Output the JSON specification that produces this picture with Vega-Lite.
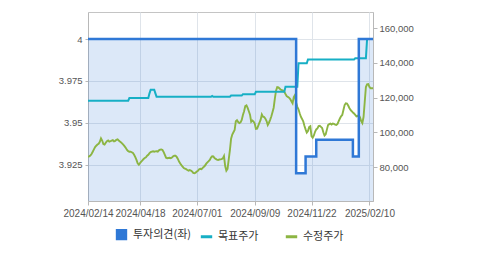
{
"$schema": "https://vega.github.io/schema/vega-lite/v6.json",
"width": 285, "height": 189,
"autosize": {"type": "none"},
"padding": {"left": 88, "top": 12, "right": 106, "bottom": 54},
"config": {
  "view": {"stroke": "#c4c4c4"},
  "axis": {"labelFont": "Liberation Sans", "labelFontSize": 10, "labelColor": "#555555", "domainColor": "#b8b8b8", "tickColor": "#b8b8b8", "gridColor": "#dfe4ea", "title": null},
  "legend": {"labelFont": "Noto Sans CJK KR", "labelFontSize": 11, "labelColor": "#333333", "padding": 0}
},
"data": {"values": [
{"date":"2024/02/14","opinion":4,"target":118250,"price":85900},
{"date":"2024/02/15","opinion":4,"target":118250,"price":86160},
{"date":"2024/02/16","opinion":4,"target":118250,"price":86680},
{"date":"2024/02/19","opinion":4,"target":118250,"price":87480},
{"date":"2024/02/20","opinion":4,"target":118250,"price":88810},
{"date":"2024/02/21","opinion":4,"target":118250,"price":90140},
{"date":"2024/02/22","opinion":4,"target":118250,"price":91460},
{"date":"2024/02/23","opinion":4,"target":118250,"price":92270},
{"date":"2024/02/26","opinion":4,"target":118250,"price":92960},
{"date":"2024/02/27","opinion":4,"target":118250,"price":93420},
{"date":"2024/02/28","opinion":4,"target":118250,"price":94520},
{"date":"2024/02/29","opinion":4,"target":118250,"price":96540},
{"date":"2024/03/04","opinion":4,"target":118250,"price":95270},
{"date":"2024/03/05","opinion":4,"target":118250,"price":93250},
{"date":"2024/03/06","opinion":4,"target":118250,"price":92960},
{"date":"2024/03/07","opinion":4,"target":118250,"price":93950},
{"date":"2024/03/08","opinion":4,"target":118250,"price":94930},
{"date":"2024/03/11","opinion":4,"target":118250,"price":95330},
{"date":"2024/03/12","opinion":4,"target":118250,"price":94580},
{"date":"2024/03/13","opinion":4,"target":118250,"price":94870},
{"date":"2024/03/14","opinion":4,"target":118250,"price":95210},
{"date":"2024/03/15","opinion":4,"target":118250,"price":95500},
{"date":"2024/03/18","opinion":4,"target":118250,"price":94750},
{"date":"2024/03/19","opinion":4,"target":118250,"price":95090},
{"date":"2024/03/20","opinion":4,"target":118250,"price":95670},
{"date":"2024/03/21","opinion":4,"target":118250,"price":95960},
{"date":"2024/03/22","opinion":4,"target":118250,"price":95270},
{"date":"2024/03/25","opinion":4,"target":118250,"price":94690},
{"date":"2024/03/26","opinion":4,"target":118250,"price":94180},
{"date":"2024/03/27","opinion":4,"target":118250,"price":93480},
{"date":"2024/03/28","opinion":4,"target":118250,"price":92730},
{"date":"2024/03/29","opinion":4,"target":118250,"price":91920},
{"date":"2024/04/01","opinion":4,"target":118250,"price":90940},
{"date":"2024/04/02","opinion":4,"target":118250,"price":89850},
{"date":"2024/04/03","opinion":4,"target":118250,"price":89100},
{"date":"2024/04/04","opinion":4,"target":119800,"price":88810},
{"date":"2024/04/05","opinion":4,"target":119800,"price":88810},
{"date":"2024/04/08","opinion":4,"target":119800,"price":88520},
{"date":"2024/04/09","opinion":4,"target":119800,"price":88060},
{"date":"2024/04/11","opinion":4,"target":119800,"price":87080},
{"date":"2024/04/12","opinion":4,"target":119800,"price":85750},
{"date":"2024/04/15","opinion":4,"target":119800,"price":84140},
{"date":"2024/04/16","opinion":4,"target":119800,"price":82120},
{"date":"2024/04/17","opinion":4,"target":119800,"price":81310},
{"date":"2024/04/18","opinion":4,"target":119800,"price":82290},
{"date":"2024/04/19","opinion":4,"target":119800,"price":83040},
{"date":"2024/04/22","opinion":4,"target":119800,"price":83850},
{"date":"2024/04/23","opinion":4,"target":119800,"price":84600},
{"date":"2024/04/24","opinion":4,"target":119800,"price":85180},
{"date":"2024/04/25","opinion":4,"target":119800,"price":85580},
{"date":"2024/04/26","opinion":4,"target":119800,"price":86500},
{"date":"2024/04/29","opinion":4,"target":119800,"price":87080},
{"date":"2024/04/30","opinion":4,"target":122500,"price":88000},
{"date":"2024/05/02","opinion":4,"target":124600,"price":88640},
{"date":"2024/05/03","opinion":4,"target":124600,"price":88920},
{"date":"2024/05/07","opinion":4,"target":124600,"price":89100},
{"date":"2024/05/08","opinion":4,"target":124600,"price":88810},
{"date":"2024/05/09","opinion":4,"target":122500,"price":89040},
{"date":"2024/05/10","opinion":4,"target":120500,"price":89100},
{"date":"2024/05/13","opinion":4,"target":120500,"price":88870},
{"date":"2024/05/14","opinion":4,"target":120500,"price":89620},
{"date":"2024/05/16","opinion":4,"target":120500,"price":90020},
{"date":"2024/05/17","opinion":4,"target":120500,"price":90080},
{"date":"2024/05/20","opinion":4,"target":120500,"price":89850},
{"date":"2024/05/21","opinion":4,"target":120500,"price":88580},
{"date":"2024/05/22","opinion":4,"target":120500,"price":86960},
{"date":"2024/05/23","opinion":4,"target":120500,"price":85350},
{"date":"2024/05/24","opinion":4,"target":120500,"price":85060},
{"date":"2024/05/27","opinion":4,"target":120500,"price":85180},
{"date":"2024/05/28","opinion":4,"target":120500,"price":85290},
{"date":"2024/05/29","opinion":4,"target":120500,"price":85060},
{"date":"2024/05/30","opinion":4,"target":120500,"price":85520},
{"date":"2024/05/31","opinion":4,"target":120500,"price":86160},
{"date":"2024/06/03","opinion":4,"target":120500,"price":86500},
{"date":"2024/06/04","opinion":4,"target":120500,"price":86500},
{"date":"2024/06/05","opinion":4,"target":120500,"price":85810},
{"date":"2024/06/07","opinion":4,"target":120500,"price":84660},
{"date":"2024/06/10","opinion":4,"target":120500,"price":83160},
{"date":"2024/06/11","opinion":4,"target":120500,"price":82060},
{"date":"2024/06/12","opinion":4,"target":120500,"price":81080},
{"date":"2024/06/13","opinion":4,"target":120500,"price":80160},
{"date":"2024/06/14","opinion":4,"target":120500,"price":79460},
{"date":"2024/06/17","opinion":4,"target":120500,"price":79000},
{"date":"2024/06/18","opinion":4,"target":120500,"price":78770},
{"date":"2024/06/19","opinion":4,"target":120500,"price":78260},
{"date":"2024/06/20","opinion":4,"target":120500,"price":77910},
{"date":"2024/06/21","opinion":4,"target":120500,"price":78200},
{"date":"2024/06/24","opinion":4,"target":120500,"price":77970},
{"date":"2024/06/25","opinion":4,"target":120500,"price":77450},
{"date":"2024/06/26","opinion":4,"target":120500,"price":76640},
{"date":"2024/06/27","opinion":4,"target":120500,"price":76410},
{"date":"2024/06/28","opinion":4,"target":120500,"price":76760},
{"date":"2024/07/01","opinion":4,"target":120500,"price":77390},
{"date":"2024/07/02","opinion":4,"target":120500,"price":77800},
{"date":"2024/07/03","opinion":4,"target":120500,"price":78720},
{"date":"2024/07/04","opinion":4,"target":120500,"price":79000},
{"date":"2024/07/05","opinion":4,"target":120500,"price":78720},
{"date":"2024/07/08","opinion":4,"target":120500,"price":79520},
{"date":"2024/07/09","opinion":4,"target":120500,"price":80160},
{"date":"2024/07/10","opinion":4,"target":120500,"price":80850},
{"date":"2024/07/11","opinion":4,"target":120500,"price":81940},
{"date":"2024/07/12","opinion":4,"target":120500,"price":82690},
{"date":"2024/07/15","opinion":4,"target":120500,"price":83380},
{"date":"2024/07/16","opinion":4,"target":120500,"price":84140},
{"date":"2024/07/17","opinion":4,"target":120500,"price":85460},
{"date":"2024/07/18","opinion":4,"target":121000,"price":86160},
{"date":"2024/07/19","opinion":4,"target":120500,"price":86100},
{"date":"2024/07/22","opinion":4,"target":120500,"price":85180},
{"date":"2024/07/23","opinion":4,"target":120500,"price":84660},
{"date":"2024/07/24","opinion":4,"target":120500,"price":84310},
{"date":"2024/07/25","opinion":4,"target":120500,"price":84020},
{"date":"2024/07/26","opinion":4,"target":120500,"price":84310},
{"date":"2024/07/29","opinion":4,"target":120500,"price":84430},
{"date":"2024/07/30","opinion":4,"target":120500,"price":84540},
{"date":"2024/07/31","opinion":4,"target":120500,"price":84950},
{"date":"2024/08/01","opinion":4,"target":120500,"price":86330},
{"date":"2024/08/02","opinion":4,"target":120500,"price":80560},
{"date":"2024/08/05","opinion":4,"target":120500,"price":77850},
{"date":"2024/08/06","opinion":4,"target":120500,"price":78890},
{"date":"2024/08/07","opinion":4,"target":120500,"price":84370},
{"date":"2024/08/08","opinion":4,"target":120500,"price":89790},
{"date":"2024/08/09","opinion":4,"target":121200,"price":96310},
{"date":"2024/08/12","opinion":4,"target":121200,"price":98740},
{"date":"2024/08/13","opinion":4,"target":121200,"price":100060},
{"date":"2024/08/14","opinion":4,"target":121200,"price":101330},
{"date":"2024/08/16","opinion":4,"target":121200,"price":106350},
{"date":"2024/08/19","opinion":4,"target":121200,"price":106980},
{"date":"2024/08/20","opinion":4,"target":121200,"price":105940},
{"date":"2024/08/21","opinion":4,"target":121200,"price":105310},
{"date":"2024/08/22","opinion":4,"target":121200,"price":105710},
{"date":"2024/08/23","opinion":4,"target":121200,"price":107100},
{"date":"2024/08/26","opinion":4,"target":122000,"price":109980},
{"date":"2024/08/27","opinion":4,"target":122000,"price":112180},
{"date":"2024/08/28","opinion":4,"target":122000,"price":115110},
{"date":"2024/08/29","opinion":4,"target":122000,"price":115520},
{"date":"2024/08/30","opinion":4,"target":122000,"price":114080},
{"date":"2024/09/02","opinion":4,"target":122000,"price":112180},
{"date":"2024/09/03","opinion":4,"target":122000,"price":110210},
{"date":"2024/09/04","opinion":4,"target":122000,"price":106120},
{"date":"2024/09/05","opinion":4,"target":122000,"price":106810},
{"date":"2024/09/06","opinion":4,"target":122000,"price":106170},
{"date":"2024/09/09","opinion":4,"target":122000,"price":105020},
{"date":"2024/09/10","opinion":4,"target":123400,"price":101960},
{"date":"2024/09/11","opinion":4,"target":123400,"price":102080},
{"date":"2024/09/12","opinion":4,"target":123400,"price":103870},
{"date":"2024/09/13","opinion":4,"target":123400,"price":105540},
{"date":"2024/09/19","opinion":4,"target":123400,"price":107330},
{"date":"2024/09/20","opinion":4,"target":123400,"price":110330},
{"date":"2024/09/23","opinion":4,"target":123400,"price":109060},
{"date":"2024/09/24","opinion":4,"target":123400,"price":108830},
{"date":"2024/09/25","opinion":4,"target":123400,"price":107900},
{"date":"2024/09/26","opinion":4,"target":123400,"price":106520},
{"date":"2024/09/27","opinion":4,"target":123400,"price":104210},
{"date":"2024/09/30","opinion":4,"target":123400,"price":105540},
{"date":"2024/10/02","opinion":4,"target":123400,"price":107210},
{"date":"2024/10/04","opinion":4,"target":123400,"price":109110},
{"date":"2024/10/07","opinion":4,"target":123400,"price":111540},
{"date":"2024/10/08","opinion":4,"target":123400,"price":114190},
{"date":"2024/10/10","opinion":4,"target":123400,"price":119500},
{"date":"2024/10/11","opinion":4,"target":123400,"price":124060},
{"date":"2024/10/14","opinion":4,"target":123400,"price":126080},
{"date":"2024/10/15","opinion":4,"target":123400,"price":125900},
{"date":"2024/10/16","opinion":4,"target":123400,"price":125270},
{"date":"2024/10/17","opinion":4,"target":123400,"price":124580},
{"date":"2024/10/18","opinion":4,"target":123400,"price":124400},
{"date":"2024/10/21","opinion":4,"target":123400,"price":124120},
{"date":"2024/10/22","opinion":4,"target":123400,"price":123430},
{"date":"2024/10/23","opinion":4,"target":126300,"price":122100},
{"date":"2024/10/24","opinion":4,"target":126300,"price":120890},
{"date":"2024/10/25","opinion":4,"target":126300,"price":120420},
{"date":"2024/10/28","opinion":4,"target":126300,"price":120020},
{"date":"2024/10/29","opinion":4,"target":126300,"price":119210},
{"date":"2024/10/30","opinion":4,"target":126300,"price":117940},
{"date":"2024/10/31","opinion":4,"target":126300,"price":116730},
{"date":"2024/11/01","opinion":4,"target":126300,"price":120370},
{"date":"2024/11/04","opinion":4,"target":126300,"price":121520},
{"date":"2024/11/05","opinion":3.92,"target":126300,"price":117080},
{"date":"2024/11/06","opinion":3.92,"target":126300,"price":114710},
{"date":"2024/11/07","opinion":3.92,"target":139800,"price":113270},
{"date":"2024/11/08","opinion":3.92,"target":139800,"price":111020},
{"date":"2024/11/11","opinion":3.92,"target":139800,"price":109000},
{"date":"2024/11/12","opinion":3.92,"target":139800,"price":107730},
{"date":"2024/11/13","opinion":3.92,"target":139800,"price":106350},
{"date":"2024/11/14","opinion":3.92,"target":139800,"price":103750},
{"date":"2024/11/15","opinion":3.93,"target":139800,"price":101730},
{"date":"2024/11/18","opinion":3.93,"target":139800,"price":99880},
{"date":"2024/11/19","opinion":3.93,"target":142000,"price":100750},
{"date":"2024/11/20","opinion":3.93,"target":142000,"price":103060},
{"date":"2024/11/21","opinion":3.93,"target":142000,"price":103520},
{"date":"2024/11/22","opinion":3.93,"target":142000,"price":97870},
{"date":"2024/11/25","opinion":3.93,"target":142000,"price":96880},
{"date":"2024/11/26","opinion":3.93,"target":142000,"price":98210},
{"date":"2024/11/27","opinion":3.93,"target":142000,"price":100340},
{"date":"2024/11/28","opinion":3.94,"target":142000,"price":101670},
{"date":"2024/11/29","opinion":3.94,"target":142000,"price":102300},
{"date":"2024/12/02","opinion":3.94,"target":142000,"price":103640},
{"date":"2024/12/03","opinion":3.94,"target":142000,"price":103810},
{"date":"2024/12/04","opinion":3.94,"target":142000,"price":103170},
{"date":"2024/12/05","opinion":3.94,"target":142000,"price":102540},
{"date":"2024/12/06","opinion":3.94,"target":142000,"price":100000},
{"date":"2024/12/09","opinion":3.94,"target":142000,"price":98150},
{"date":"2024/12/10","opinion":3.94,"target":142000,"price":98900},
{"date":"2024/12/11","opinion":3.94,"target":142000,"price":101560},
{"date":"2024/12/12","opinion":3.94,"target":142000,"price":104210},
{"date":"2024/12/13","opinion":3.94,"target":142000,"price":104730},
{"date":"2024/12/16","opinion":3.94,"target":142000,"price":105020},
{"date":"2024/12/17","opinion":3.94,"target":142000,"price":104500},
{"date":"2024/12/18","opinion":3.94,"target":142000,"price":105080},
{"date":"2024/12/19","opinion":3.94,"target":142000,"price":104850},
{"date":"2024/12/20","opinion":3.94,"target":142000,"price":104500},
{"date":"2024/12/23","opinion":3.94,"target":142000,"price":104270},
{"date":"2024/12/24","opinion":3.94,"target":142000,"price":104910},
{"date":"2024/12/26","opinion":3.94,"target":142000,"price":106520},
{"date":"2024/12/27","opinion":3.94,"target":142000,"price":107960},
{"date":"2024/12/30","opinion":3.94,"target":142000,"price":109290},
{"date":"2025/01/02","opinion":3.94,"target":142000,"price":109980},
{"date":"2025/01/03","opinion":3.94,"target":142000,"price":112870},
{"date":"2025/01/06","opinion":3.94,"target":142000,"price":115750},
{"date":"2025/01/07","opinion":3.94,"target":142000,"price":116730},
{"date":"2025/01/08","opinion":3.94,"target":142000,"price":116610},
{"date":"2025/01/09","opinion":3.94,"target":142000,"price":115460},
{"date":"2025/01/10","opinion":3.94,"target":142000,"price":114020},
{"date":"2025/01/13","opinion":3.94,"target":142000,"price":112870},
{"date":"2025/01/14","opinion":3.94,"target":142000,"price":112180},
{"date":"2025/01/15","opinion":3.93,"target":142000,"price":111420},
{"date":"2025/01/16","opinion":3.93,"target":142000,"price":110840},
{"date":"2025/01/17","opinion":3.93,"target":142700,"price":110040},
{"date":"2025/01/20","opinion":3.93,"target":142700,"price":109230},
{"date":"2025/01/21","opinion":3.93,"target":142700,"price":109410},
{"date":"2025/01/22","opinion":4,"target":142700,"price":109980},
{"date":"2025/01/23","opinion":4,"target":142700,"price":108600},
{"date":"2025/01/24","opinion":4,"target":142700,"price":106520},
{"date":"2025/01/31","opinion":4,"target":142700,"price":105370},
{"date":"2025/02/03","opinion":4,"target":142700,"price":108830},
{"date":"2025/02/04","opinion":4,"target":142700,"price":117480},
{"date":"2025/02/05","opinion":4,"target":142700,"price":126140},
{"date":"2025/02/06","opinion":4,"target":153800,"price":127690},
{"date":"2025/02/07","opinion":4,"target":153800,"price":127870},
{"date":"2025/02/10","opinion":4,"target":153800,"price":126140},
{"date":"2025/02/11","opinion":4,"target":153800,"price":125390},
{"date":"2025/02/12","opinion":4,"target":153800,"price":125390},
{"date":"2025/02/13","opinion":4,"target":153800,"price":125390}
]},
"encoding": {
  "x": {"field": "date", "type": "ordinal", "scale": {"type": "point", "padding": 0},
        "axis": {"values": ["2024/02/14","2024/04/18","2024/07/01","2024/09/09","2024/11/22","2025/02/10"], "labelAngle": 0, "labelOverlap": false, "grid": true, "tickSize": 4, "labelPadding": 3}}
},
"layer": [
  {"mark": {"type": "area", "color": "#2f78d6", "opacity": 0.17, "interpolate": "step-after", "clip": true},
   "encoding": {"y": {"field": "opinion", "type": "quantitative",
      "scale": {"domain": [3.9035, 4.0161], "nice": false, "zero": false},
      "axis": {"orient": "left", "values": [3.925, 3.95, 3.975, 4], "format": ".3~f", "grid": true, "tickSize": 3, "labelPadding": 3, "labelFontSize": 9.5}}}},
  {"layer": [
    {"mark": {"type": "line", "strokeWidth": 1.9, "clip": true},
     "encoding": {"y": {"field": "price", "type": "quantitative",
        "scale": {"domain": [60400, 169400], "nice": false, "zero": false},
        "axis": {"orient": "right", "values": [80000, 100000, 120000, 140000, 160000], "format": ",d", "grid": false, "tickSize": 4, "labelPadding": 2, "labelFontSize": 9.5}},
        "color": {"datum": "수정주가"}}},
    {"mark": {"type": "line", "strokeWidth": 2, "clip": true},
     "encoding": {"y": {"field": "target", "type": "quantitative"},
        "color": {"datum": "목표주가"}}}
  ]},
  {"mark": {"type": "line", "strokeWidth": 2.5, "interpolate": "step-after", "clip": true},
   "encoding": {"y": {"field": "opinion", "type": "quantitative",
      "scale": {"domain": [3.9035, 4.0161], "nice": false, "zero": false}, "axis": null},
      "color": {"datum": "투자의견(좌)",
        "scale": {"domain": ["투자의견(좌)", "목표주가", "수정주가"], "range": ["#2f78d6", "#17afc5", "#8cb543"]},
        "legend": {"title": null, "orient": "none", "legendX": 26, "legendY": 215, "direction": "horizontal", "columns": 3, "gridAlign": "all", "columnPadding": 2, "symbolType": "stroke", "symbolStrokeWidth": 3, "symbolSize": 120, "labelOffset": 4,
          "encode": {"symbols": {"update": {
             "shape": {"signal": "datum.value === '투자의견(좌)' ? 'square' : 'stroke'"},
             "fill": {"signal": "datum.value === '투자의견(좌)' ? '#2f78d6' : 'transparent'"},
             "size": {"signal": "datum.value === '투자의견(좌)' ? 70 : 130"}}}}}}}}
],
"resolve": {"scale": {"y": "independent"}}
}
